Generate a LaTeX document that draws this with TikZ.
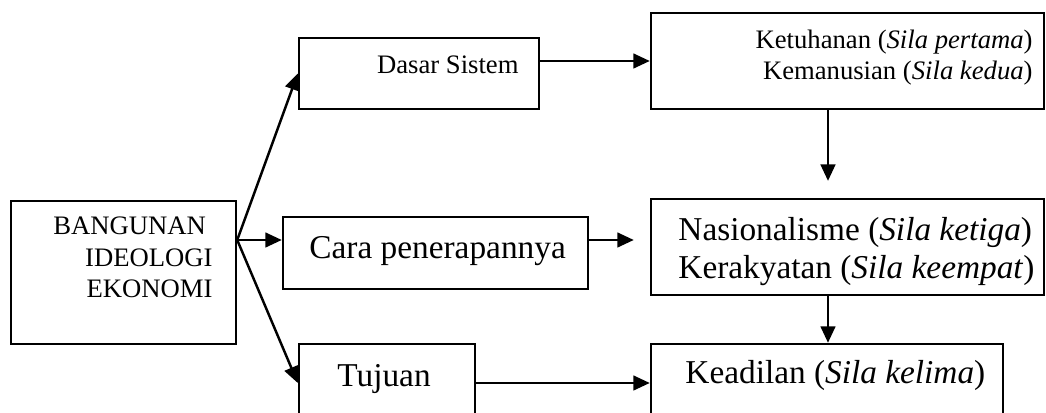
\documentclass[tikz,border=0pt]{standalone}
\usepackage{fontspec}
\setmainfont{Liberation Serif}
\usetikzlibrary{arrows.meta,fit}

\begin{document}
\begin{tikzpicture}[x=0.45pt,y=-0.45pt,
    box/.style={draw,line width=1.1pt,inner sep=0pt},
    arr/.style={line width=1.1pt,-{Triangle[length=7.4pt,width=6.6pt]}},
    small/.style={inner sep=0pt,font=\fontsize{12}{14}\selectfont},
    big/.style={inner sep=0pt,font=\fontsize{15}{17.1}\selectfont}]
  \useasboundingbox (0,0) rectangle (1046,413);
  \clip (0,0) rectangle (1046,413);
  % boxes
  \node[box,fit={(11,201) (236,344)}] (bang) {};
  \node[box,fit={(299,38) (539,109)}] (dasar) {};
  \node[box,fit={(283,217) (588,289)}] (cara) {};
  \node[box,fit={(299,344) (475,422)}] (tuju) {};
  \node[box,fit={(651,13) (1044,109)}] (ketu) {};
  \node[box,fit={(651,199) (1044,295)}] (nasio) {};
  \node[box,fit={(651,344) (1003,422)}] (keadil) {};
  % texts (base = last line)
  \node[small,align=right,anchor=base east] (bangt) at (213,298)
    {BANGUNAN\hspace*{.25em}\\[0.2pt] IDEOLOGI\\[0.2pt] EKONOMI};
  \node[small,anchor=base east] (dasart) at (519,74) {Dasar Sistem};
  \node[small,align=right,anchor=base east] (ketut) at (1033,80)
    {Ketuhanan (\textit{Sila pertama})\\ Kemanusian (\textit{Sila kedua})};
  \node[big,anchor=base west] (carat) at (309,259) {Cara penerapannya};
  \node[big,align=left,anchor=base west] (nasiot) at (678,279)
    {Nasionalisme (\textit{Sila ketiga})\\ Kerakyatan (\textit{Sila keempat})};
  \node[big,anchor=base west] (tujut) at (337,387) {Tujuan};
  \node[big,anchor=base west] (keadilt) at (685,384) {Keadilan (\textit{Sila kelima})};
  % connectors
  \coordinate (hy) at (0,240);
  \coordinate (vx) at (828,0);
  \draw[arr] (bang.east |- hy) -- (dasar.west);
  \draw[arr] (bang.east |- hy) -- (cara.west |- hy);
  \draw[arr] (bang.east |- hy) -- (tuju.west);
  \draw[arr] (dasar.east |- ketu.west) -- (ketu.west);
  \draw[arr,shorten >=7.2pt] (cara.east |- hy) -- (nasio.west |- hy);
  \draw[arr,shorten >=7.6pt] (vx |- ketu.south) -- (vx |- nasio.north);
  \draw[arr] (vx |- nasio.south) -- (vx |- keadil.north);
  \draw[arr] (tuju.east) -- (keadil.west);
\end{tikzpicture}
\end{document}
